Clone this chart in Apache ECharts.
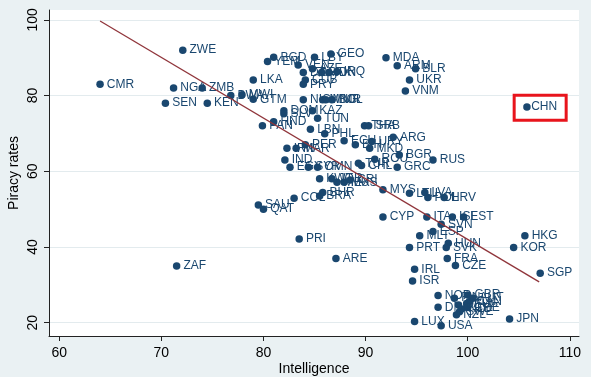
<!DOCTYPE html>
<html>
<head>
<meta charset="utf-8">
<script src="https://cdn.jsdelivr.net/npm/echarts@6.0.0/dist/echarts.min.js"></script>
<style>
  html, body { margin: 0; padding: 0; background: #eaf1f3; }
  #chart { width: 591px; height: 377px; }
</style>
</head>
<body>
<div id="chart"></div>
<script>
// country codes, intelligence (x) and piracy rate (y)
const countries = [
    "CMR", "ZWE", "NGA", "ZMB", "SEN", "KEN", "BWA", "MWI", "GTM", "LKA",
    "YEM", "BGD", "VEN", "LBY", "GEO", "AZE", "DZA", "PAK", "IDN", "IRQ",
    "CUB", "PRY", "MDA", "ARM", "BLR", "UKR", "VNM", "NIC", "MNG", "MMR",
    "BOL", "DOM", "SLV", "KAZ", "TUN", "HND", "PAN", "LBN", "PHL", "THA",
    "SRB", "ARG", "ECU", "BIH", "URY", "MKD", "IRN", "MAR", "PER", "IND",
    "EGY", "SYR", "OMN", "TUR", "CHL", "ROU", "BGR", "GRC", "RUS", "KWT",
    "JOR", "MEX", "MUS", "CRI", "BHR", "BRA", "COL", "MYS", "LTU", "LVA",
    "POL", "HRV", "CYP", "ITA", "ISL", "EST", "SVN", "ESP", "MLT", "HUN",
    "SVK", "PRT", "FRA", "CZE", "HKG", "KOR", "SGP", "CHN", "SAU", "QAT",
    "PRI", "ARE", "ZAF", "IRL", "ISR", "NOR", "DNK", "FIN", "GBR", "DEU",
    "AUS", "NLD", "CAN", "SWE", "AUT", "CHE", "NZL", "LUX", "USA", "JPN"
];

const intelligence = [
    64.0, 72.1, 71.2, 74.0, 70.4, 74.5, 76.8, 77.9, 79.0, 79.0,
    80.4, 81.0, 83.4, 85.0, 86.6, 84.8, 83.9, 85.7, 86.4, 87.2,
    84.1, 83.9, 92.0, 93.1, 94.9, 94.3, 93.9, 83.9, 85.8, 86.1,
    86.7, 82.0, 82.0, 84.8, 85.3, 81.0, 79.9, 84.6, 86.0, 89.9,
    90.3, 92.7, 87.9, 89.0, 90.6, 90.4, 82.3, 83.2, 84.1, 82.1,
    82.6, 84.4, 85.3, 89.3, 89.6, 90.9, 93.3, 93.1, 96.6, 85.5,
    86.7, 87.2, 87.9, 88.5, 85.8, 85.5, 83.0, 91.7, 94.3, 95.8,
    96.1, 97.7, 91.7, 96.0, 98.5, 99.6, 97.4, 96.6, 95.3, 98.1,
    97.9, 94.3, 98.0, 98.8, 105.6, 104.5, 107.1, 105.8, 79.5, 80.0,
    83.5, 87.1, 71.5, 94.8, 94.6, 97.1, 97.1, 98.7, 100.0, 99.1,
    99.9, 99.4, 100.2, 99.2, 100.5, 100.0, 98.9, 94.8, 97.4, 104.1
];

const piracy = [
    83.0, 92.0, 82.0, 82.0, 78.0, 78.0, 80.0, 80.2, 79.0, 84.1,
    89.0, 90.1, 88.1, 90.1, 91.0, 87.1, 86.1, 86.1, 86.1, 86.3,
    84.1, 83.0, 90.0, 87.9, 87.1, 84.1, 81.2, 78.9, 78.9, 78.9,
    78.9, 76.0, 75.2, 76.0, 74.0, 73.1, 72.0, 71.1, 69.9, 72.0,
    72.0, 69.0, 68.1, 67.0, 67.9, 66.1, 66.1, 66.1, 67.0, 63.0,
    61.1, 61.1, 61.1, 62.1, 61.5, 63.2, 64.3, 61.1, 63.0, 58.0,
    58.0, 57.1, 57.1, 57.7, 54.4, 53.5, 52.9, 55.1, 54.2, 54.4,
    53.1, 53.1, 47.9, 47.9, 47.9, 47.9, 46.0, 44.1, 43.0, 41.0,
    39.9, 39.9, 37.0, 35.1, 43.0, 39.9, 33.1, 77.0, 51.1, 50.0,
    42.1, 37.0, 35.0, 34.1, 31.0, 27.2, 24.1, 26.5, 27.3, 24.7,
    25.1, 23.6, 25.6, 22.9, 26.5, 24.0, 22.1, 20.3, 19.2, 21.0
];

// fitted line end points
const fitX = [64.0, 107.0];
const fitY = [99.7, 30.8];

const xTicks = [60, 70, 80, 90, 100, 110];
const yTicks = [20, 40, 60, 80, 100];

const highlight = "CHN";

const NAVY = "#1a476f";
const MAROON = "#90353b";
const FONT = "'Liberation Sans', Arial, sans-serif";

const chart = echarts.init(document.getElementById("chart"));

const points = countries.map((c, i) => {
    const item = { value: [intelligence[i], piracy[i], c] };
    if (c === highlight) {
        // red box round the dot and its label
        item.label = {
            position: [-9, -8],
            lineHeight: 14,
            padding: [5, 9, 6, 17],
            borderColor: "#e8141c",
            borderWidth: 3
        };
    }
    return item;
});

chart.setOption({
    backgroundColor: "#eaf1f3",
    animation: false,
    grid: {
        left: 49,
        right: 12,
        top: 10,
        bottom: 41,
        outerBoundsMode: "none",
        show: true,
        backgroundColor: "#ffffff",
        borderWidth: 0
    },
    xAxis: {
        type: "value",
        min: 59,
        max: 110.9,
        name: "Intelligence",
        nameLocation: "middle",
        nameGap: 26,
        nameMoveOverlap: false,
        nameTextStyle: { color: "#000", fontFamily: FONT, fontSize: 14 },
        axisLine: { show: true, onZero: false, lineStyle: { color: "#222", width: 1 } },
        axisTick: { show: true, length: 5, customValues: xTicks, lineStyle: { color: "#222" } },
        axisLabel: { customValues: xTicks, margin: 10, color: "#000", fontFamily: FONT, fontSize: 14 },
        splitLine: { show: false }
    },
    yAxis: {
        type: "value",
        min: 16.5,
        max: 102.6,
        name: "Piracy rates",
        nameLocation: "middle",
        nameGap: 28,
        nameMoveOverlap: false,
        nameTextStyle: { color: "#000", fontFamily: FONT, fontSize: 14 },
        axisLine: { show: true, onZero: false, lineStyle: { color: "#222", width: 1 } },
        axisTick: { show: true, length: 5, customValues: yTicks, lineStyle: { color: "#222" } },
        axisLabel: { customValues: yTicks, rotate: 90, margin: 9, color: "#000", fontFamily: FONT, fontSize: 14 },
        splitLine: { show: true, lineStyle: { color: "#e3ebee", width: 1 } }
    },
    series: [
        {
            name: "Piracy",
            type: "scatter",
            symbol: "circle",
            symbolSize: 7.5,
            itemStyle: { color: NAVY, opacity: 1 },
            label: {
                show: true,
                position: "right",
                distance: 3,
                formatter: p => p.data.value[2],
                color: NAVY,
                fontFamily: FONT,
                fontSize: 12
            },
            data: points,
            z: 2
        },
        {
            name: "Fitted",
            type: "line",
            data: fitX.map((x, i) => [x, fitY[i]]),
            symbol: "none",
            lineStyle: { color: MAROON, width: 1.3 },
            z: 3
        }
    ]
});
</script>
</body>
</html>
